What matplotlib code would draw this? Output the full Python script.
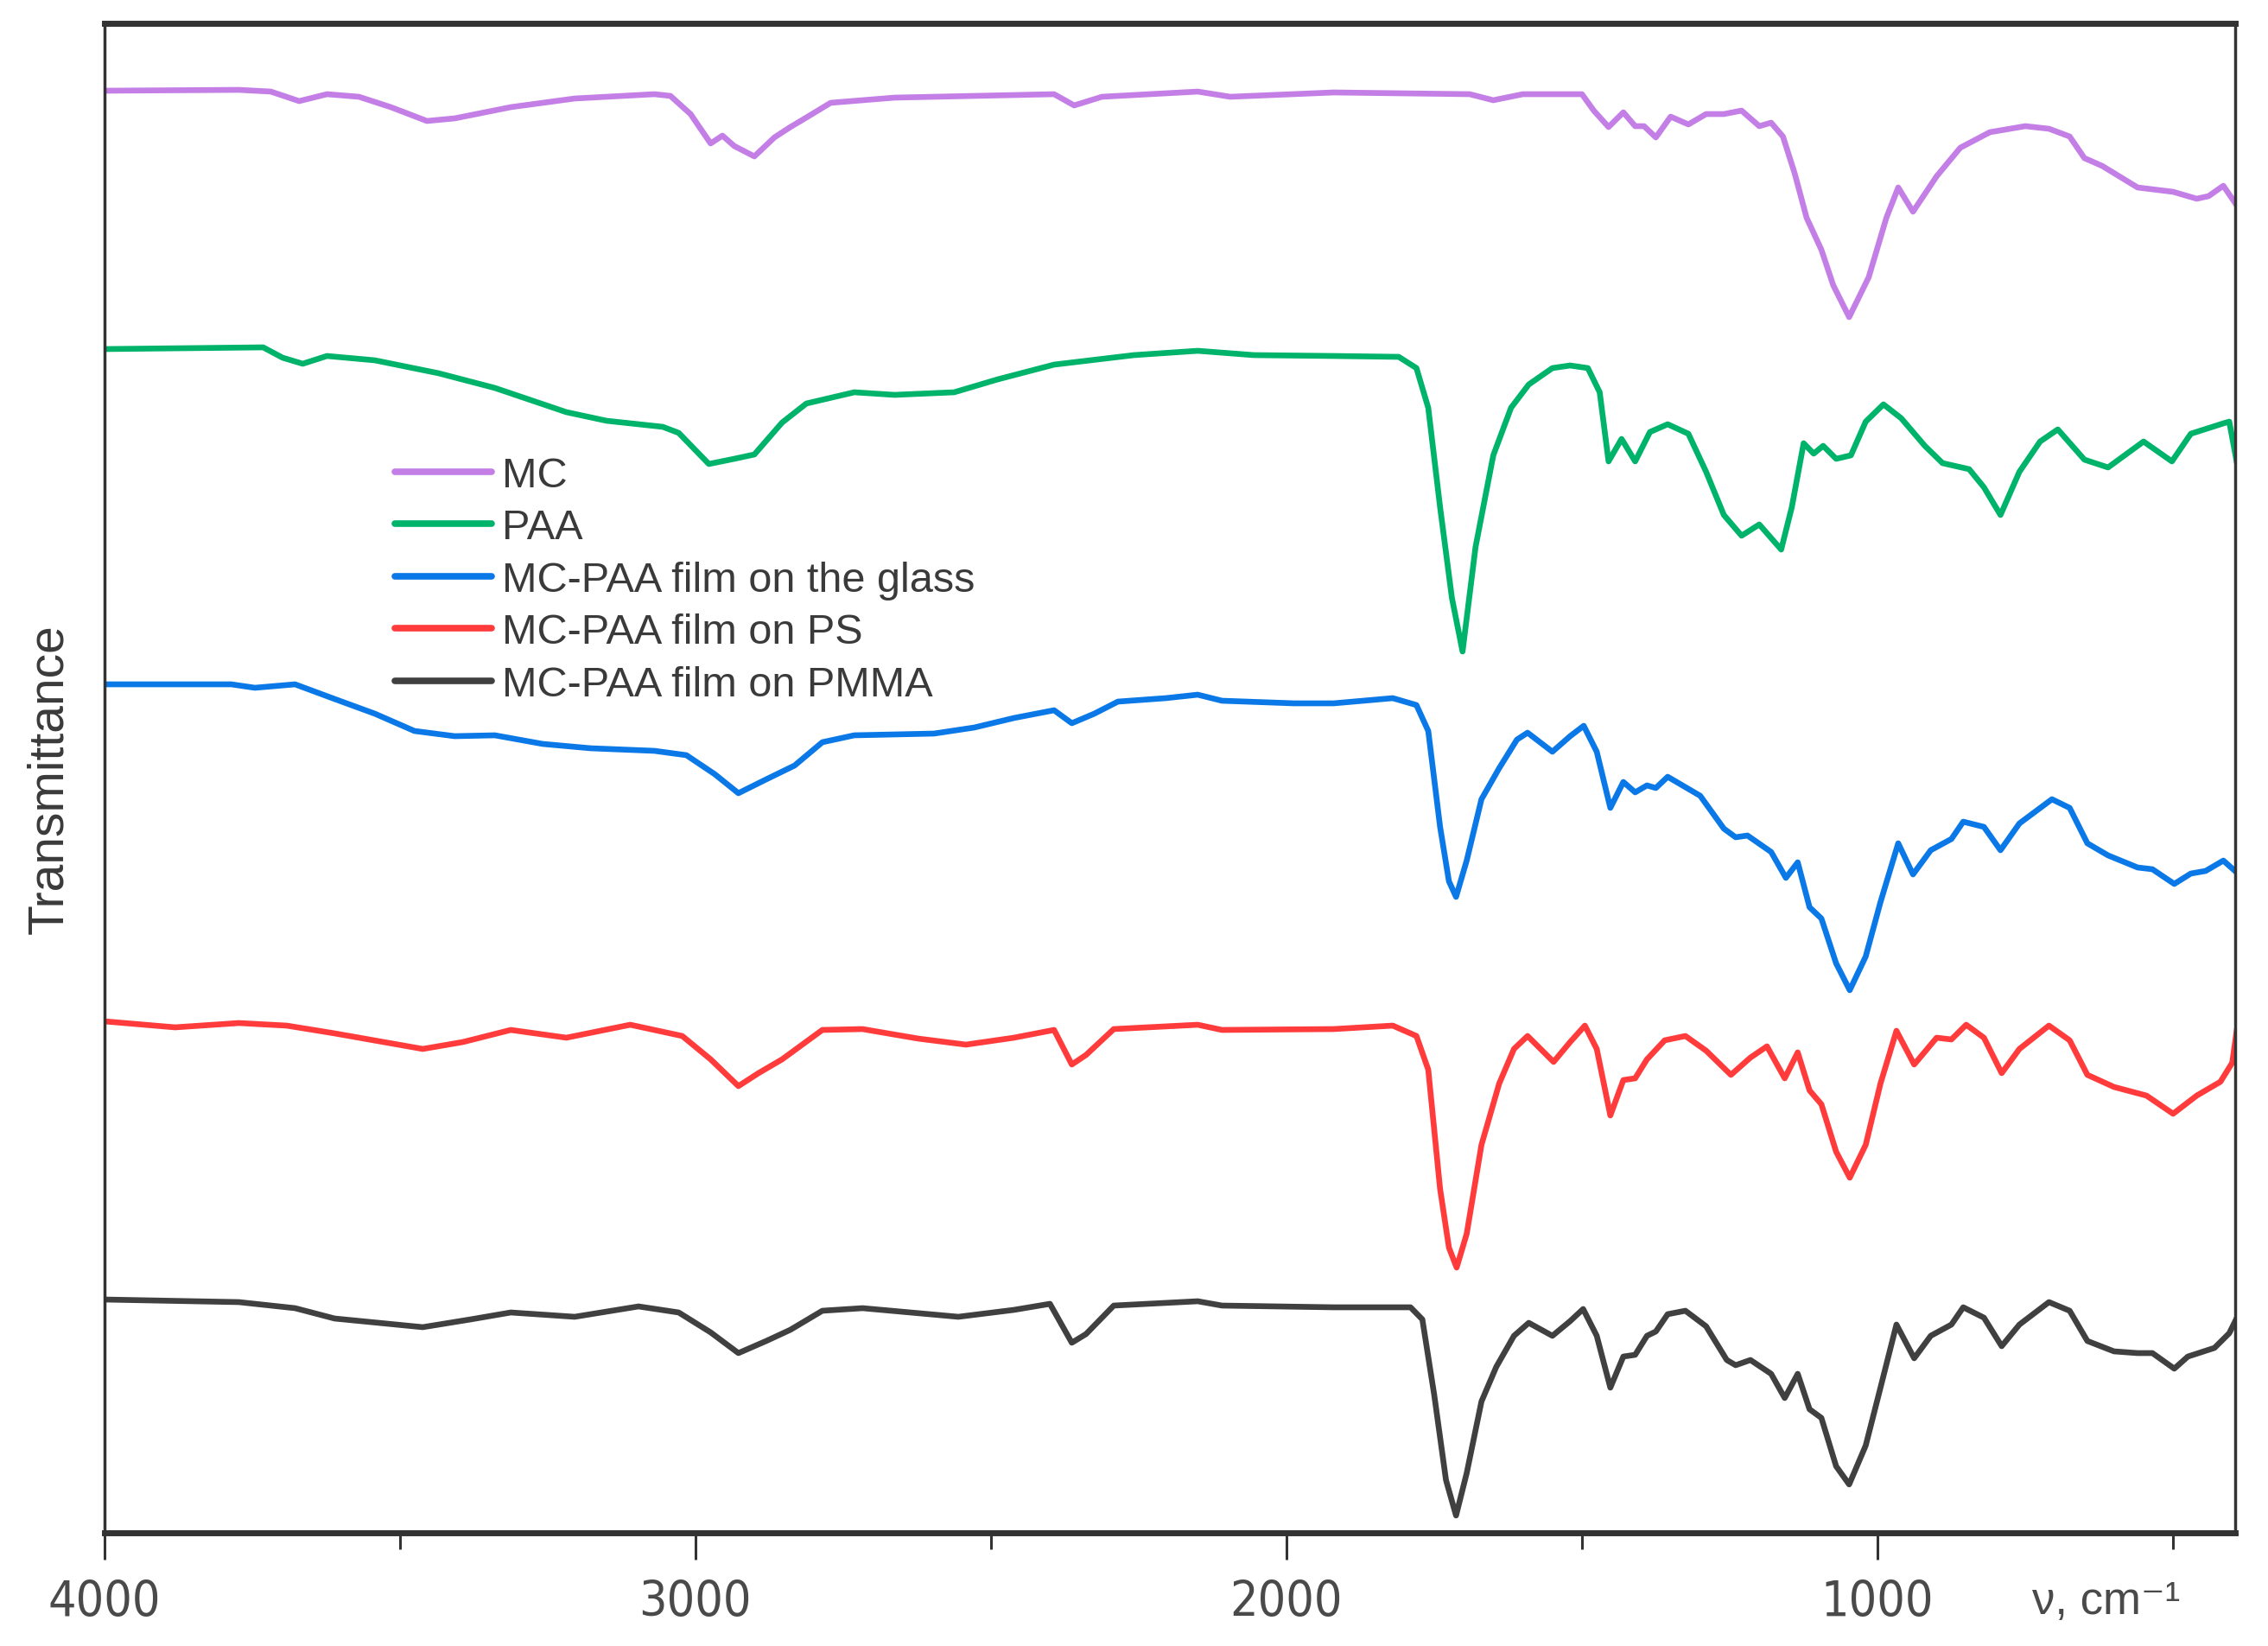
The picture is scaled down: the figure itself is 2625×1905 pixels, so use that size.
import matplotlib
matplotlib.use("Agg")
import matplotlib.pyplot as plt
from matplotlib import font_manager as fm
from matplotlib.ticker import FixedLocator, NullFormatter

# ---------------- data (wavenumber, cm-1 ; transmittance, a.u., stacked) ----------------
labels = ["MC", "PAA", "MC-PAA film on the glass", "MC-PAA film on PS", "MC-PAA film on PMMA"]
colors = ["#c47fe6", "#00b36b", "#0a78e6", "#ff3b3b", "#404040"]

mc_wn = [4000, 3772, 3718, 3670, 3623, 3569, 3515, 3454, 3407, 3312,
         3204, 3069, 3042, 3008, 2974, 2954, 2934, 2900, 2866, 2839,
         2812, 2771, 2663, 2393, 2359, 2312, 2150, 2095, 1920, 1690,
         1650, 1600, 1500, 1480, 1455, 1430, 1410, 1395, 1375, 1350,
         1320, 1290, 1260, 1230, 1200, 1180, 1160, 1140, 1120, 1095,
         1075, 1048, 1015, 985, 965, 940, 900, 860, 810, 750,
         710, 675, 650, 620, 560, 500, 460, 440, 415, 392]
mc_t = [1669, 1670, 1668, 1657, 1665, 1662, 1650, 1634, 1637, 1650,
        1660, 1665, 1663, 1642, 1608, 1617, 1605, 1593, 1615, 1627,
        1638, 1655, 1661, 1665, 1652, 1662, 1668, 1662, 1667, 1665,
        1658, 1665, 1665, 1646, 1627, 1644, 1628, 1628, 1615, 1639,
        1630, 1642, 1642, 1646, 1628, 1632, 1616, 1573, 1522, 1485,
        1444, 1407, 1453, 1522, 1557, 1529, 1570, 1603, 1621, 1628,
        1625, 1616, 1591, 1582, 1557, 1552, 1544, 1547, 1559, 1536]

paa_wn = [4000, 3731, 3698, 3664, 3623, 3542, 3434, 3339, 3218, 3150,
          3055, 3028, 2977, 2934, 2900, 2853, 2812, 2731, 2663, 2562,
          2488, 2393, 2258, 2150, 2055, 1920, 1810, 1780, 1760, 1740,
          1720, 1702, 1680, 1650, 1620, 1590, 1550, 1520, 1490, 1470,
          1455, 1433, 1410, 1385, 1355, 1320, 1290, 1260, 1230, 1200,
          1163, 1145, 1125, 1108, 1092, 1070, 1045, 1020, 990, 960,
          920, 890, 845, 820, 792, 760, 725, 695, 650, 610,
          550, 502, 470, 415, 405, 392]
paa_t = [1370, 1372, 1360, 1353, 1362, 1357, 1342, 1325, 1297, 1287,
         1280, 1273, 1237, 1243, 1248, 1285, 1307, 1320, 1317, 1320,
         1335, 1352, 1363, 1368, 1363, 1362, 1361, 1348, 1302, 1187,
         1082, 1020, 1141, 1247, 1302, 1329, 1348, 1351, 1348, 1320,
         1240, 1266, 1240, 1274, 1283, 1272, 1228, 1178, 1154, 1167,
         1138, 1187, 1261, 1249, 1258, 1243, 1247, 1286, 1306, 1290,
         1258, 1238, 1231, 1210, 1178, 1228, 1263, 1277, 1242, 1233,
         1263, 1240, 1272, 1284, 1286, 1238]

glass_wn = [4000, 3785, 3745, 3677, 3610, 3542, 3475, 3407, 3339, 3258,
            3177, 3069, 3015, 2967, 2927, 2880, 2832, 2785, 2731, 2596,
            2528, 2461, 2393, 2363, 2325, 2285, 2204, 2150, 2109, 1987,
            1920, 1820, 1780, 1760, 1740, 1725, 1713, 1695, 1670, 1640,
            1610, 1592, 1550, 1520, 1497, 1475, 1452, 1430, 1410, 1390,
            1375, 1355, 1330, 1300, 1260, 1240, 1220, 1180, 1155, 1135,
            1115, 1095, 1070, 1047, 1020, 995, 965, 940, 910, 875,
            855, 820, 792, 760, 705, 675, 645, 610, 560, 535,
            498, 470, 445, 415, 392]
glass_t = [982, 982, 978, 982, 965, 948, 928, 922, 923, 913,
           908, 905, 900, 878, 856, 872, 888, 915, 923, 925,
           932, 943, 952, 937, 948, 962, 966, 970, 963, 960,
           960, 966, 958, 928, 817, 754, 736, 778, 849, 885,
           918, 926, 904, 922, 934, 904, 839, 869, 857, 865,
           862, 875, 865, 853, 815, 805, 807, 788, 758, 776,
           724, 711, 659, 628, 667, 730, 798, 762, 790, 803,
           823, 817, 790, 821, 849, 839, 798, 784, 770, 768,
           751, 763, 766, 778, 764]

ps_wn = [4000, 3880, 3772, 3691, 3610, 3461, 3393, 3312, 3218, 3110,
         3022, 2974, 2927, 2893, 2853, 2785, 2717, 2623, 2542, 2461,
         2393, 2363, 2339, 2292, 2150, 2109, 1920, 1820, 1780, 1760,
         1740, 1725, 1712, 1695, 1670, 1640, 1615, 1592, 1548, 1520,
         1495, 1475, 1452, 1430, 1410, 1390, 1360, 1325, 1290, 1248,
         1215, 1187, 1157, 1135, 1115, 1095, 1070, 1047, 1020, 995,
         968, 938, 900, 875, 850, 820, 790, 760, 710, 675,
         645, 600, 545, 500, 460, 420, 400, 392]
ps_t = [592, 585, 590, 587, 578, 560, 568, 582, 573, 588,
        575, 548, 517, 532, 548, 582, 583, 572, 565, 573,
        582, 542, 553, 583, 588, 582, 583, 587, 575, 536,
        398, 330, 307, 346, 449, 520, 560, 575, 545, 568,
        587, 560, 483, 524, 526, 548, 570, 575, 558, 530,
        550, 563, 526, 556, 512, 496, 441, 411, 449, 520,
        581, 542, 573, 571, 588, 573, 532, 560, 587, 570,
        530, 516, 506, 485, 506, 522, 544, 583]

pmma_wn = [4000, 3772, 3677, 3610, 3461, 3380, 3312, 3204, 3096, 3028,
           2974, 2927, 2880, 2839, 2785, 2717, 2555, 2461, 2400, 2363,
           2339, 2292, 2150, 2109, 1920, 1790, 1770, 1750, 1730, 1713,
           1695, 1670, 1645, 1615, 1590, 1550, 1520, 1498, 1475, 1452,
           1430, 1410, 1390, 1375, 1355, 1325, 1290, 1255, 1240, 1215,
           1180, 1157, 1135, 1115, 1095, 1070, 1048, 1020, 995, 968,
           938, 910, 875, 855, 820, 790, 760, 710, 675, 645,
           600, 560, 535, 498, 475, 430, 405, 392]
pmma_t = [270, 267, 260, 248, 238, 247, 255, 250, 262, 255,
          232, 208, 222, 235, 257, 260, 250, 258, 265, 220,
          230, 263, 268, 263, 261, 261, 247, 160, 61, 20,
          69, 152, 192, 228, 243, 228, 245, 259, 228, 168,
          204, 206, 228, 233, 253, 257, 239, 200, 194, 200,
          184, 156, 184, 143, 133, 77, 56, 101, 168, 241,
          202, 228, 241, 261, 249, 216, 241, 267, 257, 222,
          210, 208, 208, 190, 204, 214, 231, 249]

series_wn = [mc_wn, paa_wn, glass_wn, ps_wn, pmma_wn]
series_t = [mc_t, paa_t, glass_t, ps_t, pmma_t]

major_ticks = [4000, 3000, 2000, 1000]
minor_ticks = [3500, 2500, 1500, 500]

# ---------------- pick a narrow font for the axis numbers, if one is installed ----------------
narrow_file = None
narrow_names = ("Liberation Sans Narrow", "Arial Narrow", "Roboto Condensed",
                "Open Sans Condensed", "DejaVu Sans Condensed", "Noto Sans Condensed")
for f in fm.fontManager.ttflist:
    st = str(f.stretch).lower()
    w = str(f.weight).lower()
    if f.style != "normal" or w not in ("400", "normal", "regular", "book"):
        continue
    if f.name in narrow_names or ("condensed" in st and not st.startswith(("extra", "ultra"))
                                  and f.name in ("DejaVu Sans", "Noto Sans", "Roboto", "Open Sans")):
        narrow_file = f.fname
        break

if narrow_file:
    tick_fp = fm.FontProperties(fname=narrow_file, size=41)
else:
    tick_fp = fm.FontProperties(family=["Liberation Sans", "DejaVu Sans"], size=39)
unit_fp = fm.FontProperties(family=["Liberation Sans", "DejaVu Sans"], size=38)

# ---------------- figure ----------------
W, H = 2625, 1906
fig = plt.figure(figsize=(W / 100, H / 100), dpi=100)
ax = fig.add_axes([120.5 / W, 1 - 1775 / H, (2587 - 120.5) / W, (1775 - 28) / H])

for wn, t, c, lab in zip(series_wn, series_t, colors, labels):
    ax.plot(wn, t, color=c, lw=4.8, label=lab, solid_joinstyle="round",
            solid_capstyle="round")

ax.set_xlim(4000, 395)
ax.set_ylim(0, 1747)

ax.xaxis.set_major_locator(FixedLocator(major_ticks))
ax.xaxis.set_minor_locator(FixedLocator(minor_ticks))
ax.xaxis.set_minor_formatter(NullFormatter())
ax.set_yticks([])

ax.tick_params(axis="x", which="major", direction="out", length=22, width=2.2,
               color="#333333", pad=16, labelcolor="#4a4a4a")
ax.tick_params(axis="x", which="minor", direction="out", length=14, width=2.2,
               color="#333333")
for lbl in ax.get_xticklabels():
    lbl.set_fontproperties(tick_fp)

for side in ["top", "bottom"]:
    ax.spines[side].set_linewidth(5.0)
    ax.spines[side].set_color("#333333")
for side in ["left", "right"]:
    ax.spines[side].set_linewidth(2.5)
    ax.spines[side].set_color("#333333")

ax.set_ylabel("Transmittance", fontsize=41, color="#3a3a3a",
              fontfamily=["Liberation Sans", "DejaVu Sans"])
ax.yaxis.set_label_coords(-0.0148, 0.5)

ax.text(0.9047, -0.045, "ν, cm⁻¹", transform=ax.transAxes, ha="left", va="center",
        color="#4a4a4a", fontproperties=unit_fp)

leg = ax.legend(loc="upper left", bbox_to_anchor=(0.1364, 0.7135), frameon=False,
                borderaxespad=0, borderpad=0, handlelength=2.3, handletextpad=0.25,
                labelspacing=0.32, prop={"family": ["Liberation Sans", "DejaVu Sans"], "size": 35})
for txt in leg.get_texts():
    txt.set_color("#3a3a3a")
for line in leg.get_lines():
    line.set_linewidth(5.5)

fig.savefig("out.png", dpi=100, facecolor="white")
